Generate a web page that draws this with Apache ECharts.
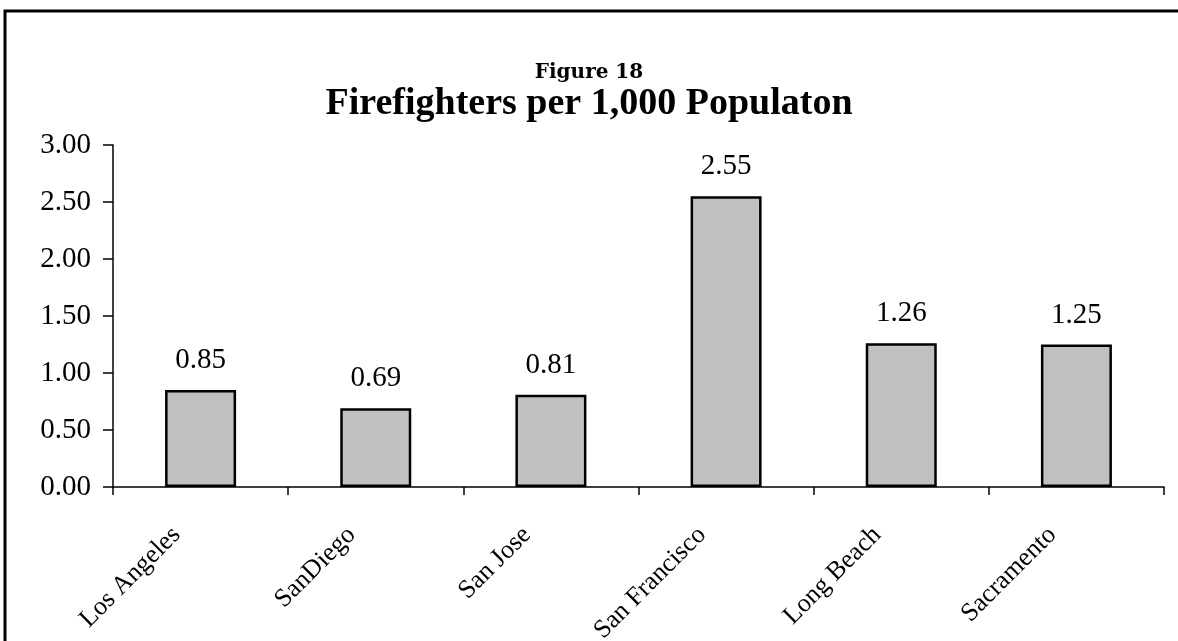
<!DOCTYPE html>
<html>
<head>
<meta charset="utf-8">
<script src="https://cdn.jsdelivr.net/npm/echarts@6/dist/echarts.min.js"></script>
<style>
  html, body { margin: 0; padding: 0; background: #fff; }
  #chart { width: 1178px; height: 641px; }
</style>
</head>
<body>
<div id="chart"></div>
<script>
// Firefighters per 1,000 population by city
const cities = ['Los Angeles', 'SanDiego', 'San Jose', 'San Francisco', 'Long Beach', 'Sacramento'];
const perThousand = [0.85, 0.69, 0.81, 2.55, 1.26, 1.25];
const yTicks = [0, 0.5, 1, 1.5, 2, 2.5, 3];

const serif = '"Liberation Serif", "Times New Roman", serif';
const chart = echarts.init(document.getElementById('chart'), null, { renderer: 'canvas' });

chart.setOption({
  backgroundColor: '#fff',
  animation: false,
  title: [
    {
      text: 'Figure 18',
      left: 'center',
      top: 58,
      textStyle: { fontFamily: '"DejaVu Serif", serif', fontWeight: 'bold', fontSize: 20, color: '#000' }
    },
    {
      text: 'Firefighters per 1,000 Populaton',
      left: 'center',
      top: 80,
      textStyle: { fontFamily: serif, fontWeight: 'bold', fontSize: 38, color: '#000' }
    }
  ],
  graphic: [
    {
      // outer frame, running off the right and bottom edges
      type: 'rect',
      shape: { x: 5, y: 11, width: 1260, height: 720 },
      style: { fill: 'none', stroke: '#000', lineWidth: 3 },
      silent: true,
      z: 100
    }
  ],
  grid: { left: 113, right: 14, top: 145, bottom: 154, containLabel: false, outerBoundsMode: 'none' },
  xAxis: {
    type: 'category',
    data: cities,
    boundaryGap: true,
    axisLine: { lineStyle: { color: '#000', width: 1.5 } },
    axisTick: { show: true, length: 8, inside: false, lineStyle: { color: '#000', width: 1.5 } },
    axisLabel: {
      rotate: 45,
      interval: 0,
      margin: 20,
      padding: [0, 34, 0, 0],
      fontFamily: serif,
      fontSize: 26,
      color: '#000'
    },
    splitLine: { show: false }
  },
  yAxis: {
    type: 'value',
    min: 0,
    max: 3,
    interval: 0.5,
    axisLine: { show: true, lineStyle: { color: '#000', width: 1.5 } },
    axisTick: { show: true, length: 10, inside: false, lineStyle: { color: '#000', width: 1.5 } },
    axisLabel: {
      margin: 22,
      fontFamily: serif,
      fontSize: 29,
      color: '#000',
      formatter: v => (yTicks.includes(v) ? v.toFixed(2) : '')
    },
    splitLine: { show: false }
  },
  series: [
    {
      type: 'bar',
      data: perThousand,
      barWidth: 71,
      itemStyle: { color: '#c0c0c0', borderColor: '#000', borderWidth: 2.5 },
      label: {
        show: true,
        position: 'top',
        distance: 15,
        fontFamily: serif,
        fontSize: 29,
        color: '#000',
        formatter: p => p.value.toFixed(2)
      }
    }
  ]
});
</script>
</body>
</html>
